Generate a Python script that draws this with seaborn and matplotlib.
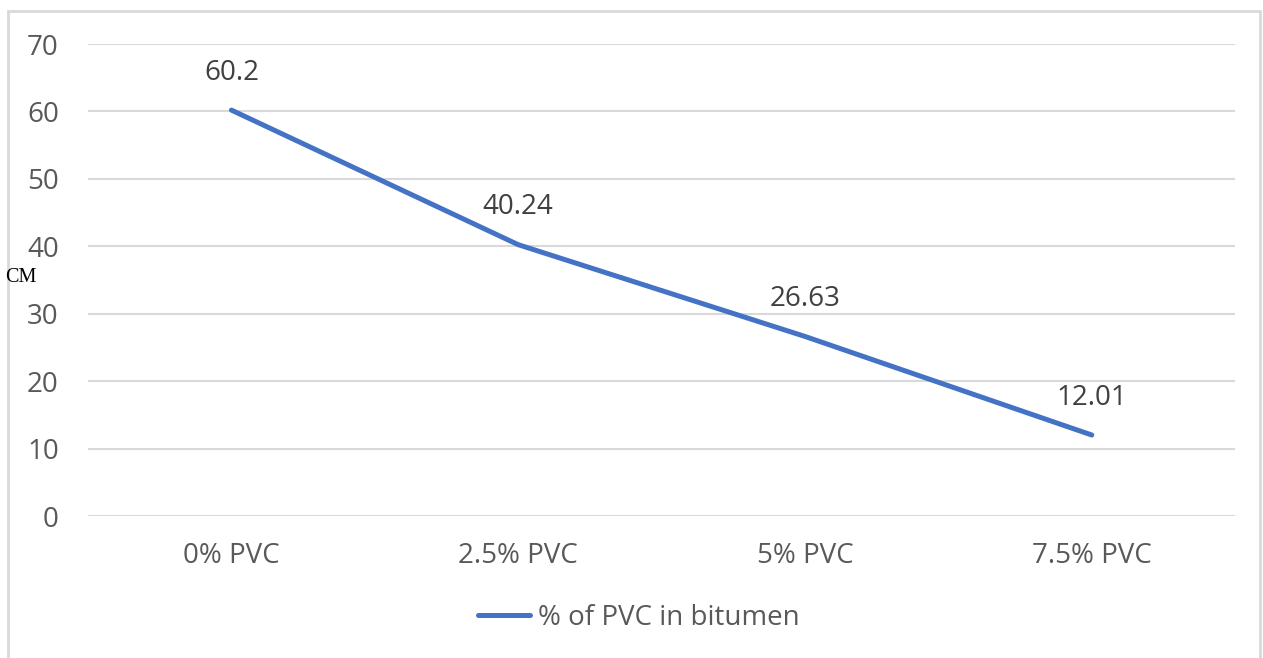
#!/usr/bin/env python3

import pandas as pd
import matplotlib.pyplot as plt
import matplotlib.patches as mpatches
import seaborn as sns

# Data
categories = ['0% PVC', '2.5% PVC', '5% PVC', '7.5% PVC']
values = [60.2, 40.24, 26.63, 12.01]
value_labels = ['60.2', '40.24', '26.63', '12.01']
series_name = '% of PVC in bitumen'
y_ticks = [0, 10, 20, 30, 40, 50, 60, 70]
y_label = 'CM'

LINE_COLOR = '#4472C4'
TICK_COLOR = '#595959'
LABEL_COLOR = '#404040'
GRID_COLOR = '#D9D9D9'
FS = 20


def main():
    sns.set_theme(style='white')
    plt.rcParams['font.family'] = ['Open Sans', 'DejaVu Sans']

    df = pd.DataFrame({'category': categories, 'value': values,
                       'series': series_name})

    fig = plt.figure(figsize=(12.63, 6.58), dpi=100)
    ax = fig.add_axes([0.0697, 0.2158, 0.9083, 0.7173])

    # chart border (light gray frame)
    fig.patches.append(mpatches.Rectangle(
        (8 / 1263, -0.01), 1252 / 1263, 1 - 11 / 658 + 0.01,
        transform=fig.transFigure, fill=False,
        edgecolor=GRID_COLOR, linewidth=2.0))

    sns.lineplot(data=df, x='category', y='value', hue='series',
                 palette=[LINE_COLOR], linewidth=3.6, sort=False,
                 legend=False, ax=ax)
    ax.lines[0].set_solid_capstyle('round')

    for i, (v, lab) in enumerate(zip(values, value_labels)):
        ax.annotate(lab, (i, v), xytext=(0, 27), textcoords='offset points',
                    ha='center', va='center', fontsize=FS, color=LABEL_COLOR)

    ax.set_xlim(-0.5, len(categories) - 0.5)
    ax.set_ylim(0, 70)
    ax.set_yticks(y_ticks)
    ax.grid(axis='y', color=GRID_COLOR, linewidth=1.5)
    ax.grid(axis='x', visible=False)
    for side in ['top', 'right', 'left', 'bottom']:
        ax.spines[side].set_visible(False)
    ax.tick_params(axis='y', length=0, pad=21, labelsize=FS,
                   labelcolor=TICK_COLOR)
    ax.tick_params(axis='x', length=0, pad=19, labelsize=FS,
                   labelcolor=TICK_COLOR)
    ax.set_xlabel('')
    ax.set_ylabel('')

    fig.text(5 / 1263, 1 - 277 / 658, y_label, fontsize=14.5,
             family='Liberation Serif', color='black', va='center', ha='left')

    handle = plt.Line2D([], [], color=LINE_COLOR, linewidth=3.6,
                        solid_capstyle='round')
    fig.legend([handle], [series_name], loc='center',
               bbox_to_anchor=(0.506, 0.061), frameon=False, fontsize=FS,
               handlelength=1.87, handletextpad=0.3, labelcolor=TICK_COLOR)

    fig.savefig('out.png', dpi=100)
    plt.close(fig)


if __name__ == '__main__':
    main()
